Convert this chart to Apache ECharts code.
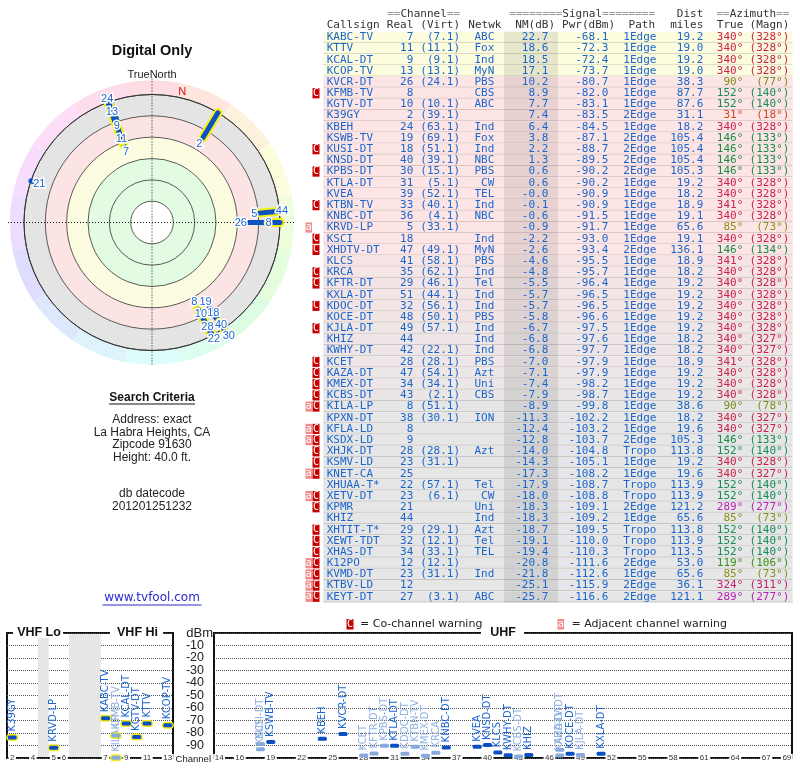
<!DOCTYPE html>
<html><head><meta charset="utf-8">
<script src="https://cdn.jsdelivr.net/npm/echarts@6/dist/echarts.min.js"></script>
<style>html,body{margin:0;padding:0;background:#fff}#c{width:800px;height:768px}</style>
</head><body><div id="c"></div>
<script>
// ---------------- DATA ----------------
const callsigns = ['KABC-TV','KTTV','KCAL-DT','KCOP-TV','KVCR-DT','KFMB-TV','KGTV-DT','K39GY','KBEH','KSWB-TV',
 'KUSI-DT','KNSD-DT','KPBS-DT','KTLA-DT','KVEA','KTBN-TV','KNBC-DT','KRVD-LP','KSCI','XHDTV-DT',
 'KLCS','KRCA','KFTR-DT','KXLA-DT','KDOC-DT','KOCE-DT','KJLA-DT','KHIZ','KWHY-DT','KCET',
 'KAZA-DT','KMEX-DT','KCBS-DT','KILA-LP','KPXN-DT','KFLA-LD','KSDX-LD','XHJK-DT','KSMV-LD','KNET-CA',
 'XHUAA-T*','XETV-DT','KPMR','KHIZ','XHTIT-T*','XEWT-TDT','XHAS-DT','K12PO','KVMD-DT','KTBV-LD','KEYT-DT'];
const realCh = [7,11,9,13,26,8,10,2,24,19, 18,40,30,31,39,33,36,5,18,47, 41,35,29,51,32,48,49,44,42,28,
 47,34,43,8,38,8,9,28,23,25, 22,23,21,44,29,32,34,12,23,12,27];
const virtCh = [7.1,11.1,9.1,13.1,24.1,null,10.1,39.1,63.1,69.1, 51.1,39.1,15.1,5.1,52.1,40.1,4.1,33.1,null,49.1,
 58.1,62.1,46.1,44.1,56.1,50.1,57.1,null,22.1,28.1, 54.1,34.1,2.1,51.1,30.1,null,null,28.1,31.1,null,
 57.1,6.1,null,null,29.1,12.1,33.1,12.1,31.1,null,3.1];
const networks = ['ABC','Fox','Ind','MyN','PBS','CBS','ABC','','Ind','Fox', 'Ind','NBC','PBS','CW','TEL','Ind','NBC','','Ind','MyN',
 'PBS','Ind','Tel','Ind','Ind','PBS','Ind','Ind','Ind','PBS', 'Azt','Uni','CBS','','ION','','','Azt','','',
 'Tel','CW','Uni','Ind','Azt','Tel','TEL','','Ind','','ABC'];
const nmDb = [22.7,18.6,18.5,17.1,10.2,8.9,7.7,7.4,6.4,3.8, 2.2,1.3,0.6,0.6,-0.04,-0.1,-0.6,-0.9,-2.2,-2.6,
 -4.6,-4.8,-5.5,-5.7,-5.7,-5.8,-6.7,-6.8,-6.8,-7.0, -7.1,-7.4,-7.9,-8.9,-11.3,-12.4,-12.8,-14.0,-14.3,-17.3,
 -17.9,-18.0,-18.3,-18.3,-18.7,-19.1,-19.4,-20.8,-21.8,-25.1,-25.7];
const pwrDbm = [-68.1,-72.3,-72.4,-73.7,-80.7,-82.0,-83.1,-83.5,-84.5,-87.1, -88.7,-89.5,-90.2,-90.2,-90.9,-90.9,-91.5,-91.7,-93.0,-93.4,
 -95.5,-95.7,-96.4,-96.5,-96.5,-96.6,-97.5,-97.6,-97.7,-97.9, -97.9,-98.2,-98.7,-99.8,-102.2,-103.2,-103.7,-104.8,-105.1,-108.2,
 -108.7,-108.8,-109.1,-109.2,-109.5,-110.0,-110.3,-111.6,-112.6,-115.9,-116.6];
const paths = ['1Edge','1Edge','1Edge','1Edge','1Edge','1Edge','1Edge','2Edge','1Edge','2Edge',
 '2Edge','2Edge','2Edge','1Edge','1Edge','1Edge','1Edge','1Edge','1Edge','2Edge',
 '1Edge','1Edge','1Edge','1Edge','1Edge','1Edge','1Edge','1Edge','1Edge','1Edge',
 '1Edge','1Edge','1Edge','1Edge','1Edge','1Edge','2Edge','Tropo','1Edge','1Edge',
 'Tropo','Tropo','2Edge','1Edge','Tropo','Tropo','Tropo','2Edge','1Edge','2Edge','2Edge'];
const distMiles = [19.2,19.0,19.2,19.0,38.3,87.7,87.6,31.1,18.2,105.4, 105.4,105.4,105.3,19.2,18.2,18.9,19.1,65.6,19.1,136.1,
 18.9,18.2,19.2,19.2,19.2,19.2,19.2,18.2,18.2,18.9, 19.2,19.2,19.2,38.6,18.2,19.6,105.3,113.8,19.2,19.6,
 113.9,113.9,121.2,65.6,113.8,113.9,113.5,53.0,65.6,36.1,121.1];
const azTrue = [340,340,340,340,90,152,152,31,340,146, 146,146,146,340,340,341,340,85,340,146,
 341,340,340,340,340,340,340,340,340,341, 340,340,340,90,340,340,146,152,340,340,
 152,152,289,85,152,152,152,119,85,324,289];
const azMagn = [328,328,328,328,77,140,140,18,328,133, 133,133,133,328,328,328,328,73,328,134,
 328,328,328,328,328,328,328,327,327,328, 328,328,328,78,327,327,133,140,328,327,
 140,140,277,73,140,140,140,106,73,311,277];
const warnings = ['','','','','','C','','','','', 'C','','C','','','C','','a','C','C',
 '','C','C','','C','','C','','','C', 'C','C','C','aC','','aC','aC','C','C','aC',
 '','aC','C','','C','C','C','aC','aC','aC','aC'];
const vhfSlots = ['2','3','4','gapA','5','6','gapB1','gapB2','gapB3','7','8','9','10','11','12','13'];
const vhfTickLabels = ['2','4','5','6','7','9','11','13'];
const uhfChannels = ['14','15','16','17','18','19','20','21','22','23','24','25','26','27','28','29','30','31','32','33',
 '34','35','36','37','38','39','40','41','42','43','44','45','46','47','48','49','50','51','52','53',
 '54','55','56','57','58','59','60','61','62','63','64','65','66','67','68','69'];
const uhfTickLabels = ['14','16','19','22','25','28','31','34','37','40','43','46','49','52','55','58','61','64','67','69'];
const headerTop = [['==','Channel','==',460],['========','Signal','========',655],['','Dist','',703.3],['==','Azimuth','==',789.3]];
const headerCols = [['Callsign',326.7,'left'],['Real',413.3,'right'],['(Virt)',460,'right'],['Netwk',468.3,'left'],['NM(dB)',555,'right'],
 ['Pwr(dBm)',615,'right'],['Path',655,'right'],['miles',703.3,'right'],['True',743.3,'right'],['(Magn)',789.3,'right']];
const searchLines = ['Address: exact','La Habra Heights, CA','Zipcode 91630','Height: 40.0 ft.'];
const dbLines = ['db datecode','201201251232'];
// NM(dB) bands of the polar plot, outermost first: [outer NM, colour]
const polarBands = [[-20,'#e4e4e4'],[0,'#fde4e4'],[20,'#fcfde0'],[40,'#e2fbe2'],[80,'#ffffff']];

// ---------------- helpers ----------------
const MONO = '11px "DejaVu Sans Mono"';
const BLUE = '#1c65cc';
function hexMix(a, b, t){
  const pa=[1,3,5].map(k=>parseInt(a.substr(k,2),16)), pb=[1,3,5].map(k=>parseInt(b.substr(k,2),16));
  return 'rgb('+pa.map((v,k)=>Math.round(v+(pb[k]-v)*t)).join(',')+')';
}
function rowBg(nm){
  if (nm >= 15) return '#fcfcdf';
  const t = Math.max(0, Math.min(1, (-3 - nm)/6));
  return hexMix('#fde5e5', '#e6e6e6', t);
}
function azColor(az){
  const k=[[0,-8,44],[31,15,46],[88,66,32],[119,105,33],[150,150,32],[289,300,42],[340,345,46],[360,352,44]];
  for (let j=0;j<k.length-1;j++){
    if (az>=k[j][0] && az<=k[j+1][0]){
      const t=(az-k[j][0])/(k[j+1][0]-k[j][0]);
      const h=k[j][1]+(k[j+1][1]-k[j][1])*t, l=k[j][2]+(k[j+1][2]-k[j][2])*t;
      return 'hsl('+((h+360)%360).toFixed(0)+',72%,'+l.toFixed(0)+'%)';
    }
  }
  return '#c25';
}
function txt(x,y,text,fill,align,font){
  return {type:'text', x:x, y:y, style:{text:text, fill:fill, font:font||MONO, align:align||'left', verticalAlign:'middle'}};
}

// ---------------- table ----------------
function renderRow(params, api){
  const i = params.dataIndex;
  const c = api.coord([0, i]);
  const h = api.size([0, 1])[1];
  const x0 = c[0], cy = c[1], top = cy - h/2;
  const k = [];
  k.push({type:'rect', shape:{x:x0+23.3, y:top, width:469.4, height:h}, style:{fill:rowBg(nmDb[i])}});
  k.push({type:'rect', shape:{x:x0+204, y:top, width:54, height:h}, style:{fill:'rgba(0,0,0,0.085)'}});
  k.push({type:'line', shape:{x1:x0+23.3, y1:top+h-0.5, x2:x0+492.7, y2:top+h-0.5}, style:{stroke:'rgba(0,0,0,0.14)', lineWidth:1}});
  const w = warnings[i];
  if (w.indexOf('a') >= 0){
    k.push({type:'rect', shape:{x:x0+5.5, y:top+0.5, width:6.5, height:h-1}, style:{fill:'#f08c8c'}});
    k.push(txt(x0+8.8, cy, 'a', '#fff', 'center', '10px "DejaVu Sans Mono"'));
  }
  if (w.indexOf('C') >= 0){
    k.push({type:'rect', shape:{x:x0+12.5, y:top+0.5, width:7, height:h-1}, style:{fill:'#c80000'}});
    k.push(txt(x0+16, cy, 'C', '#fff', 'center', '10px "DejaVu Sans Mono"'));
  }
  k.push(txt(x0+26.7, cy, callsigns[i], BLUE, 'left'));
  k.push(txt(x0+113.3, cy, String(realCh[i]), BLUE, 'right'));
  if (virtCh[i] != null) k.push(txt(x0+160, cy, '(' + virtCh[i].toFixed(1) + ')', BLUE, 'right'));
  if (networks[i]) k.push(txt(x0+194.3, cy, networks[i], BLUE, 'right'));
  k.push(txt(x0+248.3, cy, nmDb[i].toFixed(1), BLUE, 'right'));
  k.push(txt(x0+308.3, cy, pwrDbm[i].toFixed(1), BLUE, 'right'));
  k.push(txt(x0+323.3, cy, paths[i], BLUE, 'left'));
  k.push(txt(x0+403.3, cy, distMiles[i].toFixed(1), BLUE, 'right'));
  const col = azColor(azTrue[i]);
  k.push(txt(x0+443.3, cy, azTrue[i] + '°', col, 'right'));
  k.push(txt(x0+489.3, cy, '(' + azMagn[i] + '°)', col, 'right'));
  return {type:'group', children:k};
}

// ---------------- polar ----------------
const polarIdx = nmDb.map((v,i)=>i).filter(i => nmDb[i] > -20);
function renderPolarBg(params, api){
  const c = api.coord([100, 0]);
  const rOf = v => { const p = api.coord([v, 0]); return Math.hypot(p[0]-c[0], p[1]-c[1]); };
  const R = rOf(-20), R2 = rOf(-33.3);
  const k = [];
  for (let s = 0; s < 16; s++){
    const az0 = s*22.5 - 11.25, az1 = az0 + 22.5;
    const hue = ((s*22.5 - 6) + 360) % 360;
    k.push({type:'sector', shape:{cx:c[0], cy:c[1], r0:R, r:R2, startAngle:(az0-90)*Math.PI/180, endAngle:(az1-90)*Math.PI/180, clockwise:true},
      style:{fill:'hsl('+hue.toFixed(0)+',88%,93%)'}});
  }
  polarBands.forEach(b => {
    k.push({type:'circle', shape:{cx:c[0], cy:c[1], r:rOf(b[0])}, style:{fill:b[1]}});
  });
  return {type:'group', children:k};
}
function renderCross(params, api){
  const c = api.coord([100, 0]);
  const p = api.coord([-35, 0]);
  const L = c[1] - p[1];
  const st = {stroke:'#111', lineWidth:1, lineDash:[1,2]};
  const np = api.coord([-25.5, 13]);
  return {type:'group', children:[
    {type:'line', shape:{x1:c[0], y1:c[1]-L, x2:c[0], y2:c[1]+L}, style:st},
    {type:'line', shape:{x1:c[0]-L, y1:c[1], x2:c[0]+L, y2:c[1]}, style:st},
    txt(np[0], np[1], 'N', '#dd1111', 'center', '11px "Liberation Sans"')
  ]};
}
function renderPolarBar(params, api){
  const i = polarIdx[params.dataIndex];
  const p1 = api.coord([nmDb[i], azTrue[i]]);
  const p2 = api.coord([-20, azTrue[i]]);
  const k = [];
  if (realCh[i] <= 13) k.push({type:'line', shape:{x1:p1[0],y1:p1[1],x2:p2[0],y2:p2[1]}, style:{stroke:'#f6ee10', lineWidth:9, lineCap:'round'}});
  k.push({type:'line', shape:{x1:p1[0],y1:p1[1],x2:p2[0],y2:p2[1]}, style:{stroke:'#0a52c4', lineWidth:5, lineCap:'round'}});
  return {type:'group', children:k};
}
// label layout: a label starts just inside its bar and is pushed outward past labels in (nearly) the same direction
const labelPos = {};
(function layoutPolarLabels(){
  const placed = [];
  polarIdx.forEach(i => {
    const az = azTrue[i];
    let v = nmDb[i] + 6.5;
    for (let guard = 0; guard < 100; guard++){
      let moved = false;
      for (let j = 0; j < placed.length; j++){
        const q = placed[j];
        if (Math.abs(q[1] - az) <= 5.5 && Math.abs(q[0] - v) < 13){ v = q[0] - 13; moved = true; }
      }
      if (!moved) break;
    }
    if (v >= -31.5){ placed.push([v, az]); labelPos[i] = v; }
  });
})();
function renderPolarLabel(params, api){
  const i = polarIdx[params.dataIndex];
  if (labelPos[i] === undefined) return null;
  const p = api.coord([labelPos[i], azTrue[i]]);
  return {type:'text', x:p[0], y:p[1], style:{text:String(realCh[i]), font:'11px "Liberation Sans"', fill:'#1b66d2', stroke:'#ffffff', lineWidth:3, align:'center', verticalAlign:'middle'}};
}

// ---------------- bottom charts ----------------
const vhfIdx = callsigns.map((c,i)=>i).filter(i => realCh[i] <= 13 && pwrDbm[i] > -100);
const uhfIdx = callsigns.map((c,i)=>i).filter(i => realCh[i] >= 14 && pwrDbm[i] > -100);
const vhfGaps = vhfSlots.map((s,j)=>j).filter(j => vhfSlots[j].indexOf('gap') === 0);
function markerRenderer(list, isVhf){
  return function(params, api){
    const i = list[params.dataIndex];
    const p = api.coord([api.value(0), api.value(1)]);
    const light = warnings[i].indexOf('C') >= 0;
    const k = [];
    if (isVhf) k.push({type:'rect', shape:{x:p[0]-6, y:p[1]-3.5, width:12, height:7, r:3.5}, style:{fill:'#f4ec1c'}});
    k.push({type:'rect', shape:{x:p[0]-4.5, y:p[1]-2, width:9, height:4, r:1.5}, style:{fill: light ? '#88a9dc' : '#0a50c2'}});
    k.push({type:'text', x:p[0], y:p[1]-(isVhf?6:5), rotation:Math.PI/2,
      style:{text:callsigns[i], font:'10px "DejaVu Sans"', fill: light ? '#8fb1e3' : '#1b66d2', align:'left', verticalAlign:'middle'}});
    return {type:'group', children:k};
  };
}
function renderGap(params, api){
  const top = api.coord([api.value(0), 0]);
  const bot = api.coord([api.value(0), -100]);
  const bw = 166 / vhfSlots.length;
  return {type:'rect', shape:{x:top[0]-bw/2-0.3, y:top[1]+1.2, width:bw+0.6, height:bot[1]-top[1]-2.4}, style:{fill:'#e6e6e6'}};
}
const bottomLabel = {fontSize:8, fontFamily:'Liberation Sans', color:'#333', backgroundColor:'#fff', padding:[0,1.5], margin:-4};
const dotted = {show:true, lineStyle:{type:'dotted', color:'#555', width:1}};

const option = {
  animation:false,
  backgroundColor:'#fff',
  grid:[
    {left:300, top:31.7, width:500, height:51*11.19, show:false},
    {left:7, top:633, width:166, height:125, show:true, borderColor:'#111', borderWidth:2, backgroundColor:'transparent'},
    {left:214, top:633, width:578, height:125, show:true, borderColor:'#111', borderWidth:2, backgroundColor:'transparent'}
  ],
  xAxis:[
    {gridIndex:0, type:'value', min:0, max:500, show:false},
    {gridIndex:1, type:'category', data:vhfSlots, z:5, axisLine:{show:false}, axisTick:{show:false}, splitLine:{show:false},
      axisLabel:Object.assign({interval:(idx, val)=>vhfTickLabels.indexOf(val) >= 0}, bottomLabel)},
    {gridIndex:2, type:'category', data:uhfChannels, z:5, axisLine:{show:false}, axisTick:{show:false}, splitLine:{show:false},
      axisLabel:Object.assign({interval:(idx, val)=>uhfTickLabels.indexOf(val) >= 0}, bottomLabel)}
  ],
  yAxis:[
    {gridIndex:0, type:'category', data:callsigns.map((c,i)=>String(i)), inverse:true, show:false},
    {gridIndex:1, type:'value', min:-100, max:0, interval:10, position:'right', z:1, axisLine:{show:false}, axisTick:{show:false},
      axisLabel:{formatter:v => (v === 0 || v === -100) ? '' : String(v), align:'right', margin:31, fontSize:12.5, fontFamily:'Liberation Sans', color:'#222'},
      splitLine:dotted},
    {gridIndex:2, type:'value', min:-100, max:0, interval:10, z:1, axisLine:{show:false}, axisTick:{show:false}, axisLabel:{show:false}, splitLine:dotted}
  ],
  polar:{center:[152, 222.5], radius:128},
  angleAxis:{type:'value', min:0, max:360, startAngle:90, clockwise:true, z:1,
    axisLine:{show:true, lineStyle:{color:'#333', width:1}}, axisTick:{show:false}, axisLabel:{show:false}, splitLine:{show:false}},
  radiusAxis:{type:'value', min:-20, max:100, interval:20, inverse:true, z:1,
    axisLine:{show:false}, axisTick:{show:false}, axisLabel:{show:false}, splitLine:{show:true, lineStyle:{color:'#333', width:0.8}}},
  series:[
    {type:'custom', coordinateSystem:'cartesian2d', xAxisIndex:0, yAxisIndex:0, data:callsigns.map((c,i)=>[0,i]), renderItem:renderRow, clip:false, silent:true},
    {type:'custom', coordinateSystem:'polar', data:[[0,0]], renderItem:renderPolarBg, z:-5, clip:false, silent:true},
    {type:'custom', coordinateSystem:'polar', data:[[0,0]], renderItem:renderCross, z:2, clip:false, silent:true},
    {type:'custom', coordinateSystem:'polar', data:polarIdx.map(i=>[nmDb[i], azTrue[i]]), renderItem:renderPolarBar, z:3, clip:false, silent:true},
    {type:'custom', coordinateSystem:'polar', data:polarIdx.map(i=>[nmDb[i], azTrue[i]]), renderItem:renderPolarLabel, z:4, clip:false, silent:true},
    {type:'custom', xAxisIndex:1, yAxisIndex:1, data:vhfGaps.map(j=>[j, -100]), renderItem:renderGap, z:6, clip:false, silent:true},
    {type:'custom', xAxisIndex:1, yAxisIndex:1, data:vhfIdx.map(i=>[vhfSlots.indexOf(String(realCh[i])), pwrDbm[i]]), renderItem:markerRenderer(vhfIdx, true), z:10, clip:false, silent:true},
    {type:'custom', xAxisIndex:2, yAxisIndex:2, data:uhfIdx.map(i=>[uhfChannels.indexOf(String(realCh[i])), pwrDbm[i]]), renderItem:markerRenderer(uhfIdx, false), z:10, clip:false, silent:true}
  ],
  graphic:[]
};

// ---------------- static text ----------------
const G = option.graphic;
const LS = '"Liberation Sans"';
G.push({type:'text', z:100, x:152, y:51, style:{text:'Digital Only', font:'bold 14.5px '+LS, fill:'#111', align:'center', verticalAlign:'middle'}});
G.push({type:'text', z:100, x:152, y:74.5, style:{text:'TrueNorth', font:'11px '+LS, fill:'#222', align:'center', verticalAlign:'middle'}});
G.push({type:'text', z:100, x:152, y:397.5, style:{text:'Search Criteria', font:'bold 12px '+LS, fill:'#111', align:'center', verticalAlign:'middle'}});
G.push({type:'line', z:100, shape:{x1:109, y1:404, x2:195, y2:404}, style:{stroke:'#111', lineWidth:1.2}});
searchLines.forEach((s,j)=>G.push({type:'text', z:100, x:152, y:420 + j*12.4, style:{text:s, font:'12px '+LS, fill:'#222', align:'center', verticalAlign:'middle'}}));
dbLines.forEach((s,j)=>G.push({type:'text', z:100, x:152, y:494 + j*12.2, style:{text:s, font:'12px '+LS, fill:'#222', align:'center', verticalAlign:'middle'}}));
G.push({type:'text', z:100, x:152, y:598, style:{text:'www.tvfool.com', font:'12px "DejaVu Sans"', fill:'#2a2ad0', align:'center', verticalAlign:'middle'}});
G.push({type:'line', z:100, shape:{x1:102.5, y1:605, x2:201.5, y2:605}, style:{stroke:'#2a2ad0', lineWidth:1}});
headerTop.forEach(h=>G.push({type:'text', z:100, x:h[3], y:14.3, style:{text:(h[0]?'{g|'+h[0]+'}':'')+'{t|'+h[1]+'}'+(h[2]?'{g|'+h[2]+'}':''), font:MONO, align:'right', verticalAlign:'middle',
  rich:{g:{fill:'#9a9a9a', font:MONO}, t:{fill:'#333', font:MONO}}}}));
headerCols.forEach(h=>G.push({type:'text', z:100, x:h[1], y:25.3, style:{text:h[0], font:MONO, fill:'#333', align:h[2], verticalAlign:'middle'}}));
G.push({type:'rect', z:100, shape:{x:346.5, y:619, width:7, height:10.5}, style:{fill:'#c80000'}});
G.push({type:'text', z:101, x:350, y:624.3, style:{text:'C', font:'10px "DejaVu Sans Mono"', fill:'#fff', align:'center', verticalAlign:'middle'}});
G.push({type:'text', z:100, x:360, y:624, style:{text:'= Co-channel warning', font:'11px "DejaVu Sans"', fill:'#222', align:'left', verticalAlign:'middle'}});
G.push({type:'rect', z:100, shape:{x:557.5, y:619, width:6.5, height:10.5}, style:{fill:'#f08c8c'}});
G.push({type:'text', z:101, x:560.8, y:624, style:{text:'a', font:'10px "DejaVu Sans Mono"', fill:'#fff', align:'center', verticalAlign:'middle'}});
G.push({type:'text', z:100, x:571.5, y:624, style:{text:'= Adjacent channel warning', font:'11px "DejaVu Sans"', fill:'#222', align:'left', verticalAlign:'middle'}});
[['VHF Lo',13,63,39],['VHF Hi',110,163,137.5],['UHF',481,524,503]].forEach(t=>{
  G.push({type:'rect', z:100, shape:{x:t[1], y:628, width:t[2]-t[1], height:10}, style:{fill:'#fff'}});
  G.push({type:'text', z:101, x:t[3], y:633, style:{text:t[0], font:'bold 12.5px '+LS, fill:'#111', align:'center', verticalAlign:'middle'}});
});
G.push({type:'text', z:100, x:213, y:633, style:{text:'dBm', font:'13px '+LS, fill:'#222', align:'right', verticalAlign:'middle'}});
G.push({type:'text', z:100, x:211, y:759, style:{text:'Channel', font:'9.5px '+LS, fill:'#222', align:'right', verticalAlign:'middle'}});

const chart = echarts.init(document.getElementById('c'));
chart.setOption(option);
</script></body></html>
